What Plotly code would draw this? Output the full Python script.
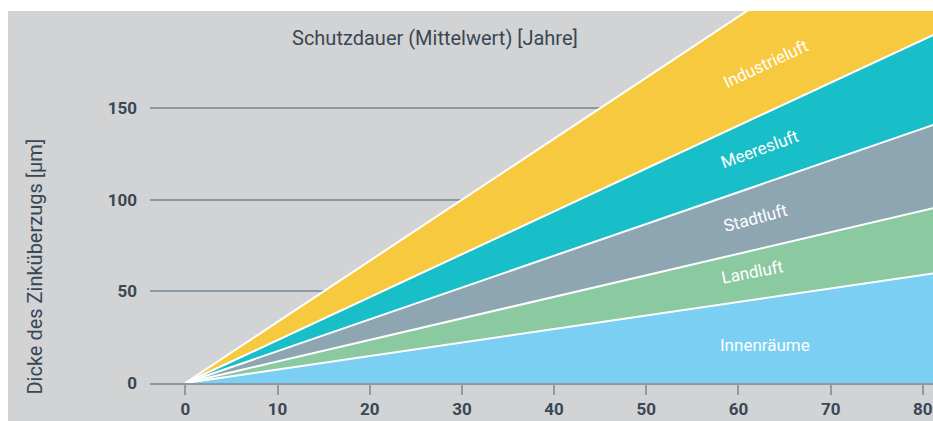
"""Schutzdauer von Zinküberzügen je nach Umgebung (Fächerdiagramm)."""

import plotly.graph_objects as go

# Jahre (Start und Ende der Geraden) und Zinkdicke je Umgebung in µm
YEARS = [0, 82]
INNENRAEUME = [0, 60.4]
LANDLUFT = [0, 96.3]
STADTLUFT = [0, 142.2]
MEERESLUFT = [0, 191.8]
INDUSTRIELUFT = [0, 273.0]

SERIES = [
    ("Innenräume", INNENRAEUME, "#7bcff2"),
    ("Landluft", LANDLUFT, "#8bc9a0"),
    ("Stadtluft", STADTLUFT, "#8ea6b2"),
    ("Meeresluft", MEERESLUFT, "#18bec8"),
    ("Industrieluft", INDUSTRIELUFT, "#f7c93e"),
]

X_TICKS = [0, 10, 20, 30, 40, 50, 60, 70, 80]
Y_TICKS = [0, 50, 100, 150]

BG = "#d1d3d4"
GRID = "#8c9aa5"
INK = "#3a4754"
FONT = "Roboto"

fig = go.Figure()
for i, (name, vals, color) in enumerate(SERIES):
    fig.add_trace(go.Scatter(
        x=YEARS, y=vals, mode="lines", name=name,
        line=dict(color="white", width=2),
        fill="tozeroy" if i == 0 else "tonexty", fillcolor=color,
        hoverinfo="name", showlegend=False))

# Beschriftung in den Bändern (Position, Drehwinkel)
band_labels = [
    ("Industrieluft", 62.9, 174.1, -25),
    ("Meeresluft", 62.3, 127.5, -20),
    ("Stadtluft", 61.8, 89.9, -15),
    ("Landluft", 61.5, 60.4, -11),
    ("Innenräume", 62.9, 20.6, 0),
]
for text, x, y, ang in band_labels:
    fig.add_annotation(x=x, y=y, text=text, showarrow=False, textangle=ang,
                       xanchor="center", yanchor="middle",
                       font=dict(family=FONT, size=17, color="white"))

fig.add_annotation(xref="paper", yref="paper", x=0.3646, y=0.9274,
                   xanchor="center", yanchor="middle",
                   text="Schutzdauer (Mittelwert) [Jahre]", showarrow=False,
                   font=dict(family=FONT, size=20, color=INK))
fig.add_annotation(xref="paper", yref="paper", x=-0.1469, y=0.313,
                   xanchor="center", yanchor="middle",
                   text="Dicke des Zinküberzugs [µm]", showarrow=False,
                   textangle=-90, font=dict(family=FONT, size=20, color=INK))

# grauer Hintergrund mit schmalem weißen Rand oben und links
fig.add_shape(type="rect", xref="paper", yref="paper",
              x0=-0.1814, x1=1.0, y0=-0.103, y1=1.0,
              fillcolor=BG, line_width=0, layer="below")

fig.update_layout(
    width=933, height=421, autosize=False,
    margin=dict(l=150, r=0, t=11, b=38),
    paper_bgcolor="white", plot_bgcolor="rgba(0,0,0,0)",
    font=dict(family=FONT, color=INK),
)
fig.update_xaxes(range=[-3.83, 81.1], tickvals=X_TICKS, showgrid=False,
                 zeroline=False, showline=True, linecolor=GRID, linewidth=1.5,
                 ticks="outside", ticklen=10, tickcolor=GRID, tickwidth=1.5,
                 tickfont=dict(family=FONT, size=17, color=INK, weight="bold"))
fig.update_yaxes(range=[0, 202.8], tickvals=Y_TICKS, showgrid=True,
                 gridcolor=GRID, gridwidth=1.5, zeroline=False, showline=False,
                 ticklabelstandoff=12,
                 tickfont=dict(family=FONT, size=17, color=INK, weight="bold"))

# Seite ohne Rand und ohne Scrollbalken, damit die Grafik das Fenster füllt
fig.write_html("out.html", config={"displayModeBar": False}, post_script=(
    "document.body.style.margin='0';"
    "document.documentElement.style.overflow='hidden';"
    "document.body.style.overflow='hidden';"))
